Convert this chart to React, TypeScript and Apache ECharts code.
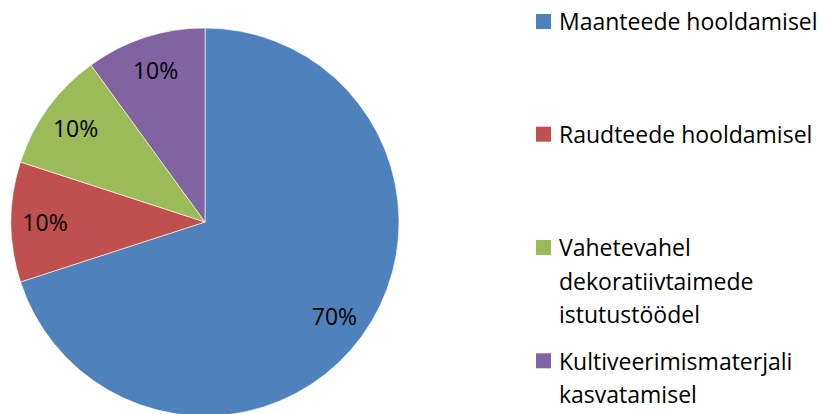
import React, { useEffect, useRef } from "react";
import * as echarts from "echarts";

const categories = [
  "Maanteede hooldamisel",
  "Raudteede hooldamisel",
  "Vahetevahel dekoratiivtaimede istutustöödel",
  "Kultiveerimismaterjali kasvatamisel",
];
const legendLines = [
  ["Maanteede hooldamisel"],
  ["Raudteede hooldamisel"],
  ["Vahetevahel", "dekoratiivtaimede", "istutustöödel"],
  ["Kultiveerimismaterjali", "kasvatamisel"],
];
const values = [70, 10, 10, 10];
const colors = ["#4F81BD", "#C0504D", "#9BBB59", "#8064A2"];

const FONT = "'Open Sans', 'Liberation Sans', sans-serif";
const LINE_H = 33.3;
const legendIconCenters = [21.5, 134.2, 247.5, 360.8];

export default function App() {
  const ref = useRef<HTMLDivElement>(null);
  useEffect(() => {
    if (!ref.current) return;
    const chart = echarts.init(ref.current, undefined, { renderer: "svg" });
    const data = categories.map((name, i) => ({
      name,
      value: values[i],
      itemStyle: { color: colors[i] },
    }));
    const legendGraphics: any[] = [];
    categories.forEach((_, i) => {
      const cy = legendIconCenters[i];
      legendGraphics.push({
        type: "rect",
        shape: { x: 536, y: cy - 7.5, width: 15, height: 15 },
        style: { fill: colors[i] },
        silent: true,
      });
      legendGraphics.push({
        type: "text",
        x: 559,
        y: cy - LINE_H / 2,
        style: {
          text: legendLines[i].join("\n"),
          fontFamily: FONT,
          fontSize: 23,
          lineHeight: LINE_H,
          fill: "#000",
          align: "left",
          verticalAlign: "top",
        },
        silent: true,
      });
    });
    chart.setOption({
      animation: false,
      graphic: legendGraphics,
      series: [
        {
          type: "pie",
          center: [205, 222],
          radius: 194,
          startAngle: 90,
          clockwise: true,
          selectedMode: false,
          silent: true,
          data,
          label: { show: false },
          labelLine: { show: false },
          itemStyle: { borderColor: "#ffffff", borderWidth: 0.6 },
          emphasis: { disabled: true },
        },
        {
          type: "pie",
          center: [205, 222],
          radius: [120, 194],
          startAngle: 90,
          clockwise: true,
          silent: true,
          selectedMode: false,
          data: categories.map((name, i) => ({
            name,
            value: values[i],
            itemStyle: { color: "rgba(0,0,0,0)" },
          })),
          label: {
            show: true,
            position: "inside",
            formatter: "{d}%",
            fontFamily: FONT,
            fontSize: 23,
            color: "#000",
          },
          labelLine: { show: false },
          emphasis: { disabled: true },
        },
      ],
    });
    return () => chart.dispose();
  }, []);
  return (
    <div
      ref={ref}
      style={{ position: "fixed", left: 0, top: 0, width: 825, height: 414, background: "#fff" }}
    />
  );
}
